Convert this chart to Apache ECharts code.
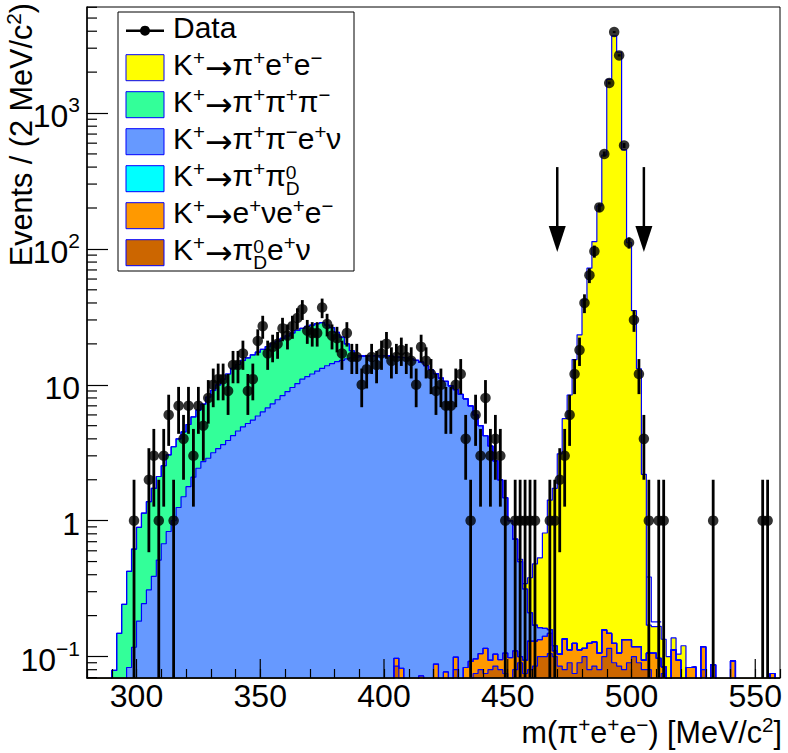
<!DOCTYPE html>
<html><head><meta charset="utf-8">
<script src="https://cdn.jsdelivr.net/npm/echarts@6/dist/echarts.min.js"></script>
<style>html,body{margin:0;padding:0;background:#fff}#c{width:788px;height:753px}</style>
</head><body><div id="c"></div><script>
// ---------------- data ----------------
const binLow = 280, binWidth = 2, nBins = 140;
const xMin = 280, xMax = 560, yMin = 0.0695, yMax = 6030;
const xTickLabels = [300, 350, 400, 450, 500, 550];
const yTickExps = [-1, 0, 1, 2, 3];

// observed data (bin centre, events)
const dataMass = [299,305,307,309,311,313,315,317,319,321,323,325,327,329,331,333,335,337,339,341,343,345,347,349,351,353,355,357,359,361,363,365,367,369,371,373,375,377,379,381,383,385,387,389,391,393,395,397,399,401,403,405,407,409,411,413,415,417,419,421,423,425,427,429,431,433,435,437,439,441,443,445,447,449,453,455,457,459,461,467,469,471,473,475,477,479,481,483,485,487,489,491,493,495,497,499,501,503,505,507,511,513,533,553,555];
const dataCount = [1,2,3,1,3,6,1,7,4,7,3,7,5,8,10,11,11,9,14,14,17,9,11,21,27,17,19,20,26,23,27,31,36,25,24,24,37,28,23,22,17,24,16,16,10,13,16,14,17,20,15,16,18,16,15,10,19,15,12,9,10,7,7,10,12,4,1,6,3,8,3,4,3,1,1,1,1,1,1,1,1,2,3,6,12,18,40,64,96,202,499,1663,3947,2656,577,111,30,12,4,1,1,1,1,1,1];

// MC components (per 2 MeV bin, first bin lower edge given by *Start)
const yellowStart = 454; // K+ -> pi+ e+ e-
const yellowVals = [0.02,0.03,0.17,0.31,0.37,0.65,1.26,1.61,3.0,5.5,8.3,15.2,23.2,42,72,113,207,490,1770,3700,2800,535,111,35,13,2.1,0.064,0.06,0.07,0.05,0.1,0.025,0.01,0.12];
const greenStart = 290; // K+ -> pi+ pi+ pi-
const greenVals = [0.079,0.148,0.242,0.34,0.50,0.71,0.89,1.07,1.34,1.60,1.86,2.22,2.5,2.75,3.0,3.32,3.71,4.07,4.48,5.22,5.94,6.61,7.37,8.11,8.98,9.53,10.2,10.6,11.1,11.5,11.9,12.3,12.8,13.1,13.6,14.0,14.5,14.9,15.0,15.4,15.5,15.6,15.5,13.7,12.0,9.5,7.3,4.5,2.0,0.4,0.1];
const blueStart = 296; // K+ -> pi+ pi- e+ nu
const blueVals = [0.083,0.117,0.182,0.245,0.309,0.389,0.513,0.676,0.832,1.0,1.25,1.50,1.78,2.09,2.43,2.72,2.88,3.16,3.39,3.63,3.89,4.22,4.57,4.90,5.19,5.50,5.89,6.31,6.76,7.24,7.76,8.32,8.91,9.55,10.2,11.0,11.5,12.0,12.6,13.2,13.8,14.3,14.8,15.1,15.5,15.8,16.0,16.2,16.3,16.4,16.4,16.4,16.3,16.2,15.9,15.8,15.7,15.5,15.1,14.6,13.8,12.9,12.0,11.2,10.5,9.8,9.1,8.5,7.8,6.9,5.9,4.9,4.1,3.45,2.65,1.9,1.37,0.9,0.62,0.4,0.22,0.08,0.04,0.03,0.02,0.01,0.01];
const cyanStart = 440; // K+ -> pi+ pi0_D
const cyanVals = [0,0,0,0];
const orangeStart = 404; // K+ -> e+ nu e+ e-
const orangeVals = [0.012,0.082,0,0,0,0.072,0,0,0.088,0,0.077,0,0.019,0,0.083,0.092,0.021,0.025,0.04,0.014,0.019,0.015,0.031,0.098,0.03,0.01,0.019,0.05,0.045,0.033,0.041,0.043,0.01,0.019,0.055,0.022,0.05,0.022,0.015,0.045,0.043,0.026,0.057,0.033,0.035,0.021,0.053,0.043,0.018,0.028,0.014,0.026,0.106,0.097,0.009,0,0.112,0.094,0,0.083,0.084,0,0.038,0,0.087,0,0,0,0.093,0,0,0,0,0,0,0,0.075];
const brownStart = 404; // K+ -> pi0_D e+ nu
const brownVals = [0.085,0,0,0,0,0,0,0,0,0,0,0,0.08,0,0,0,0.075,0.08,0.075,0.08,0.085,0.08,0.075,0,0.08,0.09,0.075,0.08,0.085,0.1,0.1,0.105,0.1,0.085,0.08,0.09,0.075,0.09,0.1,0.08,0.085,0.08,0.1,0.115,0.09,0.085,0.08,0.09,0.1,0.09,0.08,0.08,0,0,0.075,0,0,0,0,0,0,0,0.08];
// unfilled MC outline in the right tail of the peak
const outlineStart = 506;
const outlineVals = [0.385, 0.18, 0.18, 0.18];

// signal-region arrows
const arrowMass = [470, 505];
const arrowTail = 400, arrowTip = 95;

const legendLabels = ['Data','K^{+}→π^{+}e^{+}e^{−}','K^{+}→π^{+}π^{+}π^{−}','K^{+}→π^{+}π^{−}e^{+}ν','K^{+}→π^{+}π^{0}_{D}','K^{+}→e^{+}νe^{+}e^{−}','K^{+}→π^{0}_{D}e^{+}ν'];
const fillColors = [null,'#ffff00','#33ff99','#6699ff','#00ffff','#ff9900','#cc6600'];
const xTitle = 'm(π^{+}e^{+}e^{−}) [MeV/c^{2}]';
const yTitle = 'Events / (2 MeV/c^{2})';

// ---------------- build ----------------
const FONT = '"Liberation Sans", Arial, Helvetica, sans-serif';
const ARROWFONT = '"DejaVu Sans", sans-serif';
const FLOOR = 1e-4;
function toBins(start, vals){ const a = new Array(nBins).fill(0); const i0 = Math.round((start-binLow)/binWidth); vals.forEach((v,k)=>{ a[i0+k] = v; }); return a; }
const comp = {
  brown: toBins(brownStart, brownVals),
  orange: toBins(orangeStart, orangeVals),
  cyan: toBins(cyanStart, cyanVals),
  blue: toBins(blueStart, blueVals),
  green: toBins(greenStart, greenVals),
  yellow: toBins(yellowStart, yellowVals)
};
const order = ['brown','orange','cyan','blue','green','yellow'];
const colorOf = {brown:'#cc6600', orange:'#ff9900', cyan:'#00ffff', blue:'#6699ff', green:'#33ff99', yellow:'#ffff00'};
const cum = {}; let run = new Array(nBins).fill(0);
order.forEach(k => { run = run.map((v,i)=>v+comp[k][i]); cum[k] = run.slice(); });
function stepData(arr){ const d = []; for (let i=0;i<nBins;i++){ d.push([binLow+i*binWidth, Math.max(arr[i], FLOOR)]); } d.push([binLow+nBins*binWidth, Math.max(arr[nBins-1], FLOOR)]); return d; }

const histSeries = order.slice().reverse().map(k => ({
  type:'line', name:k, step:'end', data: stepData(cum[k]), symbol:'none', silent:true,
  lineStyle:{color:'#0000ff', width:1.2}, areaStyle:{color:colorOf[k], opacity:1, origin:'start'},
  clip:true, z:2
}));
const outlineData = outlineVals.map((v,i)=>[outlineStart+i*binWidth, v]);

const points = dataMass.map((m,i)=>[m, dataCount[i]]);

const mctx = document.createElement('canvas').getContext('2d');
function tw(t, size, font){ mctx.font = size+'px '+(font||FONT); return mctx.measureText(t).width; }
function parseLatex(s){ const out=[]; let i=0, buf='';
  const flush=()=>{ if(buf){ buf.split(/(→)/).forEach(p=>{ if(p) out.push({t:p,k:p==='→'?'a':'n'}); }); buf=''; } };
  while(i<s.length){ const c=s[i];
    if((c==='^'||c==='_') && s[i+1]==='{'){ flush(); const j=s.indexOf('}',i); out.push({t:s.slice(i+2,j),k:c==='^'?'p':'b'}); i=j+1; }
    else { buf+=c; i++; } }
  flush(); return out; }
function latex(s, x0, yc, size, align, z){
  const toks=parseLatex(s), ss=size*0.68, items=[]; let x=0;
  for(let i=0;i<toks.length;i++){ const t=toks[i];
    if(t.k==='n'){ items.push({t:t.t,x,y:0,s:size}); x+=tw(t.t,size); }
    else if(t.k==='a'){ const as=size*1.1; items.push({t:t.t,x,y:size*0.1,s:as,f:ARROWFONT}); x+=tw(t.t,as,ARROWFONT); }
    else if(t.k==='p' && toks[i+1] && toks[i+1].k==='b'){ const b=toks[i+1]; const sb=size*0.64;
      items.push({t:t.t,x,y:-0.1*size,s:sb}); items.push({t:b.t,x,y:0.44*size,s:sb});
      x+=Math.max(tw(t.t,sb),tw(b.t,sb)); i++; }
    else if(t.k==='p'){ items.push({t:t.t,x,y:-0.24*size,s:ss}); x+=tw(t.t,ss); }
    else { items.push({t:t.t,x,y:0.4*size,s:ss}); x+=tw(t.t,ss); } }
  const off = align==='right' ? -x : 0;
  return {width:x, els: items.map(it=>({type:'text', z:z||50, x:x0+off+it.x, y:yc+it.y,
    style:{text:it.t, fontSize:it.s, fontFamily:it.f||FONT, fill:'#000', textAlign:'left', textVerticalAlign:'middle', verticalAlign:'middle'}}))};
}

// legend
const graphics = [];
const lgX = 118, lgY = 12, lgW = 236, lgH = 259;
graphics.push({type:'rect', z:100, shape:{x:lgX,y:lgY,width:lgW,height:lgH}, style:{fill:'#fff', stroke:'#000', lineWidth:1}});
legendLabels.forEach((lab,i)=>{
  const yc = 30.7 + 37*i;
  if(i===0){
    graphics.push({type:'line', z:101, shape:{x1:126,y1:yc,x2:164,y2:yc}, style:{stroke:'#000', lineWidth:2.5}});
    graphics.push({type:'circle', z:102, shape:{cx:145,cy:yc,r:5}, style:{fill:'#000'}});
  } else {
    graphics.push({type:'rect', z:101, shape:{x:126,y:yc-13,width:38,height:26}, style:{fill:fillColors[i], stroke:'#0000ff', lineWidth:1}});
  }
  latex(lab, 173, yc-3, 30, 'left', 102).els.forEach(e=>graphics.push(e));
});
// axis titles
latex(xTitle, 782, 732, 30.5, 'right', 50).els.forEach(e=>graphics.push(e));
const yt = latex(yTitle, 0, 0, 30.6, 'left', 50);
graphics.push({type:'group', x:21, y:3+yt.width, rotation:Math.PI/2, children: yt.els});

function yLabel(v){
  const lv = Math.log10(v), e = Math.round(lv);
  if(Math.abs(lv-e)>0.01 || !yTickExps.includes(e)) return '';
  if(e===0) return '{b|1}'; if(e===1) return '{b|10}';
  return '{b|10}{s|'+(e<0?'−'+(-e):e)+'}';
}

const yMinor = []; for(let e=-2;e<=3;e++){ for(let k=2;k<=9;k++){ const v=k*Math.pow(10,e); if(v>yMin && v<yMax) yMinor.push([xMin, v]); } }

const option = {
  animation:false,
  grid:{left:87, right:8, top:7, bottom:75, show:true, borderColor:'#000', borderWidth:1, backgroundColor:'transparent', z:10},
  xAxis:{type:'value', min:xMin, max:xMax, interval:10, z:10,
    axisLine:{show:true, onZero:false, lineStyle:{color:'#000', width:1.5}},
    axisTick:{show:true, inside:true, length:9, interval:0, lineStyle:{color:'#000', width:1.2}},
    axisLabel:{interval:0, formatter:v=> xTickLabels.includes(v)? String(v):'', fontSize:32, fontFamily:FONT, color:'#000', margin:3, lineHeight:30},
    splitLine:{show:false}},
  yAxis:{type:'log', logBase:10, min:yMin, max:yMax, z:10,
    axisLine:{show:true, lineStyle:{color:'#000', width:1.5}},
    axisTick:{show:true, inside:true, length:21, lineStyle:{color:'#000', width:1.2}},
    axisLabel:{formatter:yLabel, showMinLabel:false, showMaxLabel:false, margin:7, color:'#000',
      rich:{b:{fontSize:32, fontFamily:FONT, color:'#000', lineHeight:38, verticalAlign:'bottom'}, s:{fontSize:21, fontFamily:FONT, color:'#000', verticalAlign:'top'}}},
    splitLine:{show:false}, minorTick:{show:false}},
  series: [
    ...histSeries,
    {type:'line', name:'mcOutline', step:'end', data:outlineData, symbol:'none', silent:true, lineStyle:{color:'#0000ff', width:1.2}, z:3},
    {type:'custom', name:'errors', data:points, z:20, silent:true, clip:true,
      renderItem:(p,api)=>{ const x=api.value(0), n=api.value(1), e=Math.sqrt(n);
        const a=api.coord([x, n+e]), b=api.coord([x, Math.max(n-e, yMin)]);
        return {type:'line', shape:{x1:a[0],y1:a[1],x2:b[0],y2:b[1]}, style:{stroke:'#000', lineWidth:2.8}}; }},
    {type:'scatter', name:'Data', data:points, symbol:'circle', symbolSize:10.5, itemStyle:{color:'#000'}, z:21, silent:true},
    {type:'custom', name:'arrows', data:arrowMass.map(m=>[m, arrowTip]), z:22, silent:true,
      renderItem:(p,api)=>{ const m=api.value(0); const tail=api.coord([m, arrowTail]); const tip=api.coord([m, arrowTip]);
        const base = tip[1]-26;
        return {type:'group', children:[
          {type:'line', shape:{x1:tail[0],y1:tail[1],x2:tail[0],y2:base+2}, style:{stroke:'#000', lineWidth:2.5}},
          {type:'polygon', shape:{points:[[tip[0]-8.5,base],[tip[0]+8.5,base],[tip[0],tip[1]]]}, style:{fill:'#000'}}]}; }},
    {type:'custom', name:'xMajorTicks', data:xTickLabels.map(v=>[v, yMin]), z:23, silent:true,
      renderItem:(p,api)=>{ const c=api.coord([api.value(0), yMin]); return {type:'line', shape:{x1:c[0],y1:c[1],x2:c[0],y2:c[1]-19}, style:{stroke:'#000', lineWidth:1.2}}; }},
    {type:'custom', name:'yMinorTicks', data:yMinor, z:23, silent:true,
      renderItem:(p,api)=>{ const c=api.coord([xMin, api.value(1)]); return {type:'line', shape:{x1:c[0],y1:c[1],x2:c[0]+10,y2:c[1]}, style:{stroke:'#000', lineWidth:1.2}}; }}
  ],
  graphic:{elements:graphics}
};
const chart = echarts.init(document.getElementById('c'), null, {renderer:'svg'});
chart.setOption(option);
</script></body></html>
